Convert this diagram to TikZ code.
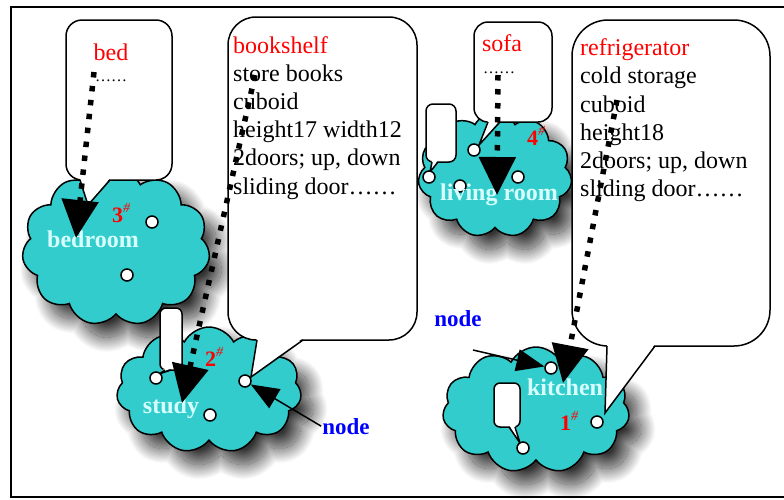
\documentclass[tikz,border=0pt]{standalone}
\usepackage{fontspec}
\setmainfont{Liberation Serif}
\usetikzlibrary{shapes.symbols, arrows.meta, shadows.blur}

\definecolor{roomcyan}{RGB}{51,204,204}
\definecolor{roomtext}{RGB}{215,255,255}
\definecolor{nodeblue}{RGB}{0,0,255}

\tikzset{
  room/.style={cloud, cloud puffs=11, cloud puff arc=125, cloud ignores aspect,
    draw, line width=1.5pt, fill=roomcyan, inner sep=0pt,
    blur shadow={shadow xshift=12pt, shadow yshift=-14pt, shadow blur radius=15pt,
      shadow blur steps=40, shadow opacity=80}},
  bubble/.style={draw, fill=white, line width=1.5pt},
  tail/.style={line width=1.5pt, line join=miter},
  spot/.style={circle, draw, fill=white, line width=1.5pt, minimum size=12pt, inner sep=0pt},
  roomlabel/.style={text=roomtext, font=\fontsize{24}{24}\selectfont\bfseries, anchor=base, inner sep=0pt},
  roomnum/.style={text=red, font=\fontsize{22}{22}\selectfont\bfseries, anchor=base west, inner sep=0pt},
  nodelabel/.style={text=nodeblue, font=\fontsize{23}{23}\selectfont\bfseries, anchor=base, inner sep=1pt},
  info/.style={align=left, anchor=north west, inner sep=0pt, font=\fontsize{24}{28.2}\selectfont},
  dotarrow/.style={line width=5.5pt, dash pattern=on 5.5pt off 8.5pt, -{Triangle[width=36pt,length=38pt]}},
  thinarrow/.style={line width=1.5pt, -{Triangle[width=22pt,length=28pt]}}
}

\newcommand{\sharpmark}{\raisebox{10pt}{\fontsize{14}{14}\selectfont\mdseries\itshape\#}}

\begin{document}
\begin{tikzpicture}[x=1pt, y=-1pt]
  \useasboundingbox (0,0) rectangle (784,499);
  \clip (0,0) rectangle (784,499);
  \draw[line width=1.5pt] (11,7) rectangle (800,497);

  % rooms
  \node[room, minimum width=188pt, minimum height=156pt] (bedroom) at (116,248) {};
  \node[room, minimum width=185pt, minimum height=126pt] (study) at (209,390) {};
  \node[room, minimum width=154pt, minimum height=125pt] (livingroom) at (495,175) {};
  \node[room, minimum width=187pt, minimum height=126pt] (kitchen) at (536,410) {};

  % callouts
  \draw[bubble, rounded corners=16pt] (66,20) rectangle (172,180);
  \fill[white] (80,178) -- (88,205) -- (110,178) -- cycle;
  \draw[tail] (80,180) -- (88,205) -- (110,180);

  \draw[bubble, rounded corners=28pt] (228,17) rectangle (417,340);
  \fill[white] (257,338) -- (251,377) -- (303,338) -- cycle;
  \draw[tail] (257,340) -- (251,377) -- (303,340);

  \draw[bubble, rounded corners=14pt] (474,22) rectangle (552,122);
  \fill[white] (488,120) -- (479,145) -- (500,120) -- cycle;
  \draw[tail] (488,122) -- (479,145) -- (500,122);

  \draw[bubble, rounded corners=7pt] (426,104) rectangle (456,162);
  \fill[white] (432,160) -- (430,172) -- (438,160) -- cycle;
  \draw[tail] (432,162) -- (430,172) -- (438,162);

  \draw[bubble, rounded corners=6pt] (160,308) rectangle (182,370);
  \fill[white] (165,368) -- (159,374) -- (171,368) -- cycle;
  \draw[tail] (165,370) -- (159,374) -- (171,370);

  \draw[bubble, rounded corners=6pt] (494,383) rectangle (520,427);
  \fill[white] (509,425) -- (520,443) -- (515,425) -- cycle;
  \draw[tail] (509,427) -- (520,443) -- (515,427);

  \draw[bubble, rounded corners=36pt] (572,20) rectangle (770,346);
  \fill[white] (607,344) -- (605,413) -- (655,344) -- cycle;
  \draw[tail] (607,346) -- (605,413) -- (655,346);

  % spots
  \node[spot] (bd1) at (152,222) {};
  \node[spot] (bd2) at (127,275) {};
  \node[spot] (sd1) at (156,378) {};
  \node[spot] (sd2) at (245,381) {};
  \node[spot] (sd3) at (210,415) {};
  \node[spot] (lr1) at (474,150) {};
  \node[spot] (lr2) at (429,177) {};
  \node[spot] (lr3) at (518,177) {};
  \node[spot] (lr4) at (460,186) {};
  \node[spot] (kt1) at (551,368) {};
  \node[spot] (kt2) at (597,422) {};
  \node[spot] (kt3) at (523,448) {};

  % texts
  \node[text=red, font=\fontsize{24}{24}\selectfont, anchor=base, inner sep=0pt] (bedname) at (111,60) {bed};
  \node[font=\fontsize{16}{16}\selectfont, anchor=base, inner sep=0pt] (beddots) at (111,81) {……};
  \node[text=red, font=\fontsize{24}{24}\selectfont, anchor=base, inner sep=0pt] (sofaname) at (502,51) {sofa};
  \node[font=\fontsize{16}{16}\selectfont, anchor=base, inner sep=0pt] (sofadots) at (499,73) {……};
  \node[info] (shelfinfo) at (233,36) {\textcolor{red}{bookshelf}\\store books\\cuboid\\height17 width12\\2doors; up, down\\sliding door……};
  \node[info] (fridgeinfo) at (580,38.5) {\textcolor{red}{refrigerator}\\cold storage\\cuboid\\height18\\2doors; up, down\\sliding door……};

  \node[roomlabel] (bedroomname) at (93,247) {bedroom};
  \node[roomlabel] (studyname) at (171,413) {study};
  \node[roomlabel] (livingname) at (499,200) {living room};
  \node[roomlabel] (kitchenname) at (565,395) {kitchen};

  \node[roomnum] (num3) at (112,222) {3\sharpmark};
  \node[roomnum] (num2) at (205,366) {2\sharpmark};
  \node[roomnum] (num4) at (527,145) {4\sharpmark};
  \node[roomnum] (num1) at (560,430) {1\sharpmark};

  \node[nodelabel] (studynode) at (346,434) {node};
  \node[nodelabel] (kitchennode) at (458,326) {node};

  % arrows
  \coordinate (bedtail) at (94,72);
  \coordinate (bedhead) at (76,238);
  \coordinate (shelftail) at (255,75);
  \coordinate (shelfhead) at (182,403);
  \coordinate (sofatail) at (498,75);
  \coordinate (sofahead) at (497,195);
  \coordinate (fridgetail) at (617,100);
  \coordinate (fridgehead) at (563,383);
  \coordinate (kitchenfree) at (473,350);
  \draw[dotarrow] (bedtail) -- (bedhead);
  \draw[dotarrow] (shelftail) -- (shelfhead);
  \draw[dotarrow] (sofatail) -- (sofahead);
  \draw[dotarrow] (fridgetail) -- (fridgehead);
  \draw[thinarrow] (studynode.west) -- (sd2);
  \draw[thinarrow] (kitchenfree) -- (kt1);
\end{tikzpicture}
\end{document}
